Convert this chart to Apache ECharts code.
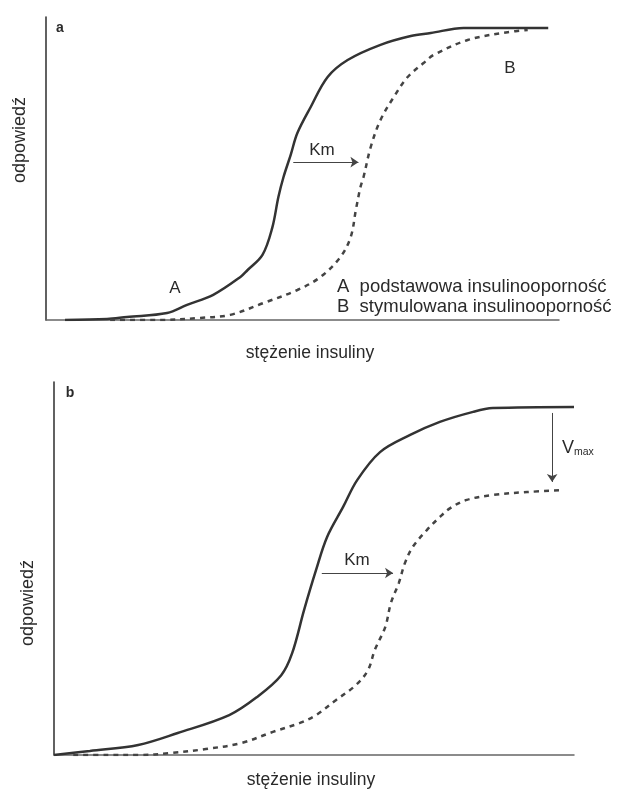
<!DOCTYPE html>
<html>
<head>
<meta charset="utf-8">
<script src="https://cdn.jsdelivr.net/npm/echarts@6/dist/echarts.min.js"></script>
<style>
  html, body { margin: 0; padding: 0; background: #fff; }
  #main { width: 617px; height: 790px; }
</style>
</head>
<body>
<div id="main"></div>
<script>
// wartości (oś x i y w jednostkach umownych 0-100)
// panel a – krzywa A (ciągła) i B (przerywana)
const aCurveA = [
  [3.7, 0], [11.9, 0.3], [15.8, 1.0], [23.6, 2.3], [27.5, 5.0], [32.6, 8.3],
  [37.9, 14.2], [39.3, 16.5], [42.2, 21.5], [44.1, 30.4], [45.3, 40.6],
  [46.3, 47.2], [47.7, 54.5], [49.0, 61.7], [51.6, 70.3], [54.9, 80.2],
  [58.8, 85.8], [65.2, 90.8], [71.1, 93.7], [75.0, 94.7], [81.4, 96.4], [97.9, 96.4]
];
const aCurveB = [
  [12.5, 0], [22.3, 0], [30.1, 0.7], [35.9, 1.7], [42.4, 5.6], [49.0, 9.9],
  [53.5, 14.2], [57.4, 20.8], [59.4, 27.4], [60.4, 36.3], [61.3, 43.9],
  [61.9, 47.2], [63.3, 57.1], [65.2, 66.0], [67.8, 73.6], [70.5, 80.2],
  [73.6, 84.8], [75.6, 87.5], [82.2, 92.4], [90.0, 95.0], [93.9, 95.7]
];
// panel b
const bCurveA = [
  [0, 0], [6.9, 1.1], [16.2, 2.7], [23.8, 5.9], [33.7, 10.7], [39.0, 15.5],
  [43.7, 21.4], [45.8, 27.3], [48.1, 38.9], [50.4, 49.6], [52.5, 58.4],
  [55.6, 66.5], [58.3, 73.7], [62.7, 81.2], [68.5, 85.8], [74.2, 89.3],
  [80.6, 92.0], [84.4, 93.0], [100, 93.3]
];
const bCurveB = [
  [3.7, 0], [10.2, 0], [16.5, 0], [22.3, 0.5], [29.2, 1.6], [36.0, 3.2],
  [42.1, 6.2], [47.3, 8.6], [50.4, 10.7], [54.2, 14.7], [58.1, 18.8],
  [60.4, 22.8], [61.7, 28.2], [63.7, 34.3], [64.8, 40.8], [66.3, 46.1],
  [67.5, 51.5], [69.0, 55.8], [71.7, 60.3], [74.2, 63.8], [76.2, 66.2],
  [79.4, 68.4], [84.4, 69.7], [91.0, 70.5], [97.9, 71.0]
];
// strzałki: [x od, x do, y]  /  [x, y od, y do]
const aKmArrow = [48.2, 60.9, 52.1];
const bKmArrow = [51.5, 65.2, 48.8];
const bVmaxArrow = [95.8, 91.7, 73.2];

const font = '"Liberation Sans", Arial, sans-serif';
const ink = '#2a2a2a';

function arrowH(arr) {
  return {
    silent: true,
    symbol: ['none', 'arrow'],
    symbolSize: 8,
    label: { show: false },
    lineStyle: { color: '#444', width: 1, type: 'solid' },
    data: [[{ coord: [arr[0], arr[2]] }, { coord: [arr[1], arr[2]] }]]
  };
}
function arrowV(arr) {
  return {
    silent: true,
    symbol: ['none', 'arrow'],
    symbolSize: 8,
    label: { show: false },
    lineStyle: { color: '#444', width: 1, type: 'solid' },
    data: [[{ coord: [arr[0], arr[1]] }, { coord: [arr[0], arr[2]] }]]
  };
}

function xAx(i) {
  return {
    gridIndex: i, type: 'value', min: 0, max: 100,
    axisLine: { show: true, onZero: false, lineStyle: { color: '#666', width: 1.5 } },
    axisTick: { show: false }, axisLabel: { show: false }, splitLine: { show: false }
  };
}
function yAx(i) {
  return {
    gridIndex: i, type: 'value', min: 0, max: 100,
    axisLine: { show: true, onZero: false, lineStyle: { color: '#3a3a3a', width: 1.6 } },
    axisTick: { show: false }, axisLabel: { show: false }, splitLine: { show: false }
  };
}
function txt(text, x, y, size, extra) {
  const el = {
    type: 'text', x: x, y: y,
    style: { text: text, fill: ink, font: size + 'px ' + font, align: 'center', verticalAlign: 'middle' }
  };
  if (extra && extra.rotation) el.rotation = extra.rotation;
  if (extra && extra.align) el.style.align = extra.align;
  if (extra && extra.bold) el.style.font = 'bold ' + el.style.font;
  return el;
}

const chart = echarts.init(document.getElementById('main'));
chart.setOption({
  backgroundColor: '#fff',
  animation: false,
  grid: [
    { left: 46, top: 17, width: 513, height: 303 },
    { left: 54, top: 382, width: 520, height: 373 }
  ],
  xAxis: [xAx(0), xAx(1)],
  yAxis: [yAx(0), yAx(1)],
  series: [
    {
      type: 'line', xAxisIndex: 0, yAxisIndex: 0, data: aCurveA,
      showSymbol: false, smooth: 0.35,
      lineStyle: { color: '#333', width: 2.5 },
      markLine: arrowH(aKmArrow)
    },
    {
      type: 'line', xAxisIndex: 0, yAxisIndex: 0, data: aCurveB,
      showSymbol: false, smooth: 0.35,
      lineStyle: { color: '#444', width: 2.5, type: [5, 5] }
    },
    {
      type: 'line', xAxisIndex: 1, yAxisIndex: 1, data: bCurveA,
      showSymbol: false, smooth: 0.35,
      lineStyle: { color: '#333', width: 2.5 },
      markLine: arrowH(bKmArrow)
    },
    {
      type: 'line', xAxisIndex: 1, yAxisIndex: 1, data: bCurveB,
      showSymbol: false, smooth: 0.35,
      lineStyle: { color: '#444', width: 2.5, type: [5, 5] },
      markLine: arrowV(bVmaxArrow)
    }
  ],
  graphic: [
    // panel a
    txt('a', 60, 28, 14, { bold: true }),
    txt('odpowiedź', 20, 140, 18, { rotation: Math.PI / 2 }),
    txt('stężenie insuliny', 310, 353, 17.5),
    txt('Km', 322, 150, 17),
    txt('B', 510, 68, 17),
    txt('A', 175, 288, 17),
    txt('A  podstawowa insulinooporność', 337, 287, 18.5, { align: 'left' }),
    txt('B  stymulowana insulinooporność', 337, 307, 18.5, { align: 'left' }),
    // panel b
    txt('b', 70, 393, 14, { bold: true }),
    txt('odpowiedź', 28, 603, 18, { rotation: Math.PI / 2 }),
    txt('stężenie insuliny', 311, 780, 17.5),
    txt('Km', 357, 560, 17),
    {
      type: 'text', x: 562, y: 448,
      style: {
        text: '{v|V}{s|max}', fill: ink, align: 'left', verticalAlign: 'middle',
        rich: {
          v: { fontSize: 18, fontFamily: font, fill: ink },
          s: { fontSize: 10.5, fontFamily: font, fill: ink, padding: [9, 0, 0, 0] }
        }
      }
    }
  ]
});
</script>
</body>
</html>
